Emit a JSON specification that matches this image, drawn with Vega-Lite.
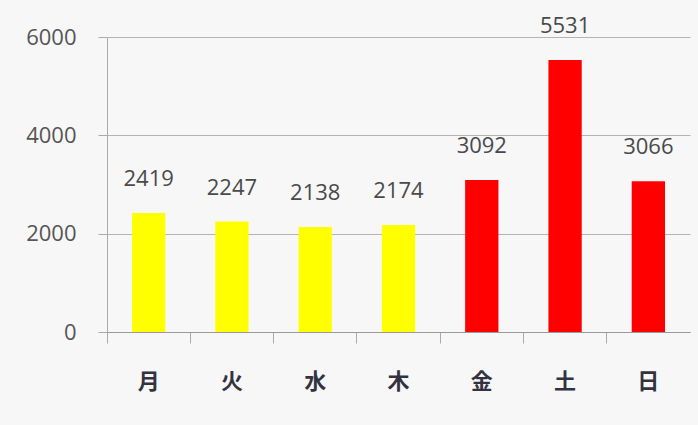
{
  "$schema": "https://vega.github.io/schema/vega-lite/v6.json",
  "autosize": "none",
  "width": 583,
  "height": 295,
  "padding": {"left": 107, "top": 37, "right": 8, "bottom": 93},
  "background": "#f7f7f8",
  "config": {"view": {"stroke": null}, "font": "Open Sans"},
  "data": {"values": [
    {"day": "月", "value": 2419, "group": "weekday"},
    {"day": "火", "value": 2247, "group": "weekday"},
    {"day": "水", "value": 2138, "group": "weekday"},
    {"day": "木", "value": 2174, "group": "weekday"},
    {"day": "金", "value": 3092, "group": "weekend"},
    {"day": "土", "value": 5531, "group": "weekend"},
    {"day": "日", "value": 3066, "group": "weekend"}
  ]},
  "encoding": {
    "x": {"field": "day", "type": "nominal", "sort": null,
      "scale": {"paddingInner": 0, "paddingOuter": 0},
      "axis": {"title": null, "labelAngle": 0, "labelFontSize": 22, "labelFontWeight": "bold", "labelColor": "#333340", "labelFont": "Noto Sans CJK JP", "labelPadding": 28, "bandPosition": 0, "tickColor": "#aaaaaa", "tickSize": 11, "domainColor": "#999999", "grid": false}},
    "y": {"field": "value", "type": "quantitative",
      "scale": {"domain": [0, 6000]},
      "axis": {"title": null, "values": [0, 2000, 4000, 6000], "format": "d", "labelFontSize": 22, "labelColor": "#555555", "labelPadding": 22, "tickSize": 9, "tickColor": "#aaaaaa", "gridColor": "#b4b4b4", "domainColor": "#aaaaaa", "labelFont": "Open Sans"}}
  },
  "layer": [
    {"mark": {"type": "bar", "width": {"band": 0.4}},
     "encoding": {"color": {"field": "group", "type": "nominal", "scale": {"domain": ["weekday", "weekend"], "range": ["#ffff00", "#ff0000"]}, "legend": null}}},
    {"mark": {"type": "text", "baseline": "middle", "dy": -34, "fontSize": 22, "color": "#4a4a4a", "font": "Open Sans"},
     "encoding": {"text": {"field": "value", "type": "quantitative", "format": "d"}}}
  ]
}
